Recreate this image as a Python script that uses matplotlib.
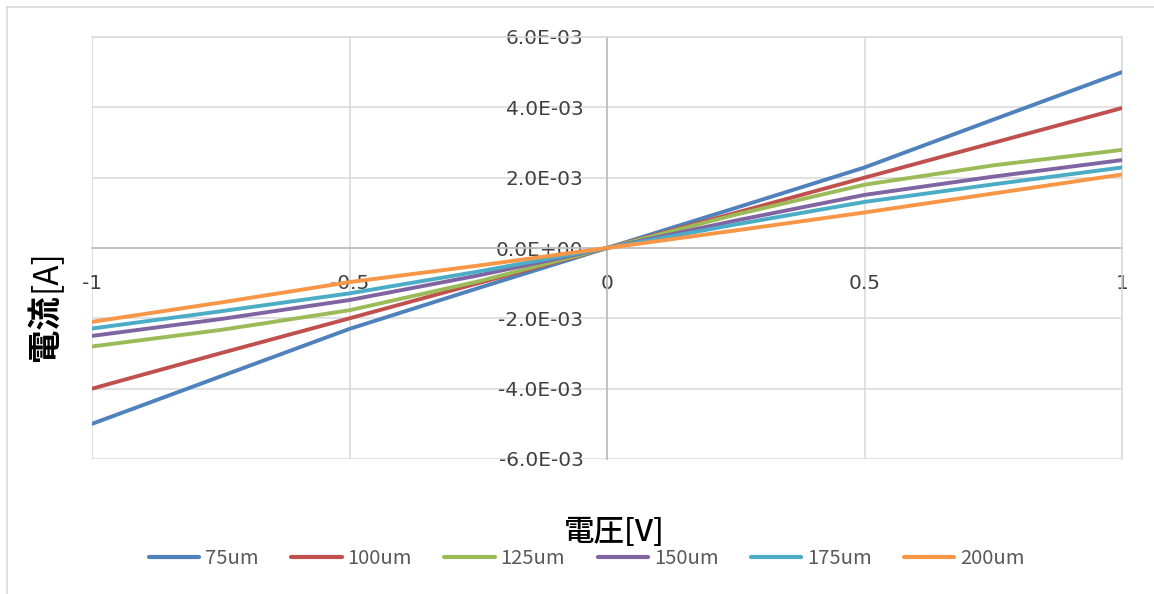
import matplotlib
matplotlib.use("Agg")
import matplotlib.pyplot as plt
from matplotlib.lines import Line2D

plt.rcParams['font.family'] = ['DejaVu Sans']
CJK = ['Noto Sans CJK JP', 'DejaVu Sans']

# Applied voltage [V]
voltage = [-1.0, -0.75, -0.5, -0.25, 0.0, 0.25, 0.5, 0.75, 1.0]

# Measured current [A] for each electrode gap
i_75um = [-5.0e-3, -3.65e-3, -2.30e-3, -1.14e-3, 0.0, 1.14e-3, 2.29e-3, 3.65e-3, 5.0e-3]
i_100um = [-4.0e-3, -2.99e-3, -2.0e-3, -1.0e-3, 0.0, 1.0e-3, 2.0e-3, 2.99e-3, 3.98e-3]
i_125um = [-2.8e-3, -2.33e-3, -1.77e-3, -0.95e-3, 0.0, 0.95e-3, 1.80e-3, 2.35e-3, 2.79e-3]
i_150um = [-2.5e-3, -2.02e-3, -1.48e-3, -0.78e-3, 0.0, 0.78e-3, 1.51e-3, 2.03e-3, 2.50e-3]
i_175um = [-2.29e-3, -1.80e-3, -1.29e-3, -0.67e-3, 0.0, 0.67e-3, 1.31e-3, 1.81e-3, 2.29e-3]
i_200um = [-2.1e-3, -1.55e-3, -0.97e-3, -0.50e-3, 0.0, 0.50e-3, 1.01e-3, 1.55e-3, 2.09e-3]

series_labels = ['75um', '100um', '125um', '150um', '175um', '200um']
series_values = [i_75um, i_100um, i_125um, i_150um, i_175um, i_200um]
series_colors = ['#4F81BD', '#C0504D', '#9BBB59', '#8064A2', '#4BACC6', '#F79646']

x_ticks = [-1.0, -0.5, 0.0, 0.5, 1.0]
x_tick_labels = ['-1', '-0.5', '0', '0.5', '1']
y_ticks = [-6e-3, -4e-3, -2e-3, 0.0, 2e-3, 4e-3, 6e-3]

W, H = 1154, 594
fig = plt.figure(figsize=(W / 100, H / 100), dpi=100)
ax = fig.add_axes([92 / W, 1 - 459 / H, (1122 - 92) / W, (459 - 37) / H])

grid_c = '#d9d9d9'
axis_c = '#bfbfbf'

for vals, lab, col in zip(series_values, series_labels, series_colors):
    ax.plot(voltage, vals, color=col, lw=2.8, label=lab, solid_capstyle='round',
            solid_joinstyle='round', zorder=3)

ax.set_xlim(-1, 1)
ax.set_ylim(-6e-3, 6e-3)
ax.set_xticks(x_ticks, x_tick_labels)
ax.set_yticks(y_ticks, [f"{v:.1E}" for v in y_ticks])

ax.grid(True, color=grid_c, lw=1.1, zorder=0)
for ln in ax.get_xgridlines() + ax.get_ygridlines():
    ln.set_clip_on(False)

for s in ['top', 'right']:
    ax.spines[s].set_color(grid_c)
    ax.spines[s].set_linewidth(1.1)
ax.spines['left'].set_position(('data', 0))
ax.spines['bottom'].set_position(('data', 0))
ax.spines['left'].set_color(axis_c)
ax.spines['bottom'].set_color(axis_c)
ax.spines['left'].set_linewidth(1.3)
ax.spines['bottom'].set_linewidth(1.3)
ax.spines['left'].set_zorder(2)
ax.spines['bottom'].set_zorder(2)

ax.tick_params(axis='both', length=0, labelcolor='#404040', labelsize=14.5)
ax.tick_params(axis='y', pad=17)
ax.tick_params(axis='x', pad=19)
for t in ax.get_xticklabels() + ax.get_yticklabels():
    t.set_zorder(5)

# axis titles (kanji heavier, bracketed unit lighter)
fig.text(45 / W, 1 - 328 / H, '電流', rotation=90, ha='center', va='center',
         fontsize=24, color='#000000', fontweight='bold', family=CJK)
fig.text(45 / W, 1 - 271 / H, '[A]', rotation=90, ha='center', va='center',
         fontsize=24, color='#000000', fontweight='normal', family=CJK)
fig.text(614 / W, 1 - 533 / H, '電圧[V]', ha='center', va='center',
         fontsize=22, color='#000000', fontweight='medium', family=CJK)

leg = fig.legend(loc='center', bbox_to_anchor=(587 / W, 1 - 559 / H), ncol=6,
                 frameon=False, prop={'family': CJK, 'size': 14.5}, handlelength=2.5,
                 handletextpad=0.3, columnspacing=1.6, labelcolor='#595959')
for h in leg.get_lines():
    h.set_linewidth(3)

# chart border
fig.add_artist(Line2D([7 / W, 1.0], [1 - 7 / H, 1 - 7 / H], transform=fig.transFigure,
                      color='#d9d9d9', lw=1.2))
fig.add_artist(Line2D([7 / W, 7 / W], [0.0, 1 - 7 / H], transform=fig.transFigure,
                      color='#d9d9d9', lw=1.2))

fig.savefig('out.png', dpi=100)
